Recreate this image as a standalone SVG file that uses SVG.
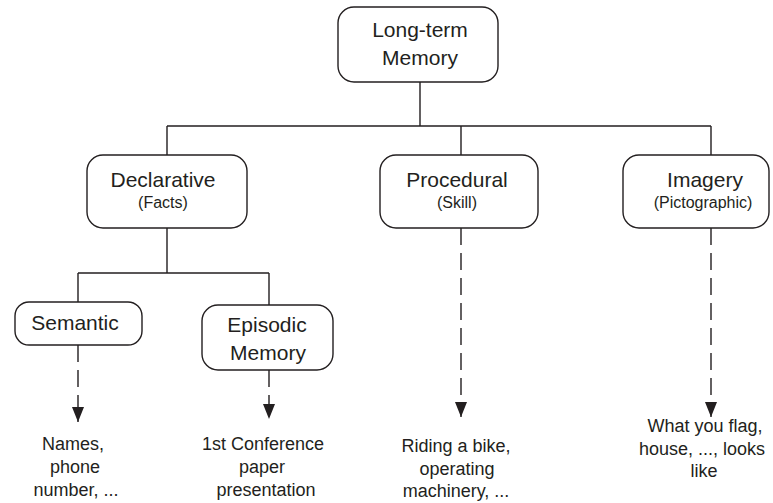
<svg xmlns="http://www.w3.org/2000/svg" width="773" height="503" viewBox="0 0 773 503">
<defs>
<marker id="arr" markerUnits="userSpaceOnUse" markerWidth="15" markerHeight="12" refX="15" refY="6" orient="auto" viewBox="0 0 15 12">
<path d="M0,0 L15,6 L0,12 Z" fill="#231f20"/>
</marker>
</defs>
<style>
.box{fill:#fff;stroke:#231f20;stroke-width:1.4}
.ln{fill:none;stroke:#231f20;stroke-width:1.4}
.dash{fill:none;stroke:#231f20;stroke-width:1.4;stroke-dasharray:17 8}
text{font-family:"Liberation Sans",Arial,sans-serif;fill:#231f20;text-anchor:middle}
.m{font-size:21px}
.s{font-size:16px}
.l{font-size:18px}
</style>
<rect width="773" height="503" fill="#fff"/>
<g id="connectors">
<path class="ln" d="M420,82 V126 M167,126 H711 M167,126 V155 M461,126 V155 M711,126 V155"/>
<path class="ln" d="M167,228 V273 M78,273 H269 M78,273 V302 M269,273 V305"/>
<line class="dash" x1="78" y1="345" x2="78" y2="422" marker-end="url(#arr)"/>
<line class="dash" x1="269" y1="370" x2="269" y2="419" marker-end="url(#arr)"/>
<line class="dash" x1="461" y1="228" x2="461" y2="417" marker-end="url(#arr)"/>
<line class="dash" x1="711" y1="228" x2="711" y2="417" marker-end="url(#arr)"/>
</g>
<g id="ltm">
<rect class="box" x="338" y="7" width="160" height="75" rx="16"/>
<text class="m" x="420" y="37">Long-term</text>
<text class="m" x="420" y="65">Memory</text>
</g>
<g id="declarative">
<rect class="box" x="87" y="155" width="160" height="73" rx="16"/>
<text class="m" x="163" y="187">Declarative</text>
<text class="s" x="163" y="208">(Facts)</text>
</g>
<g id="procedural">
<rect class="box" x="380" y="155" width="158" height="73" rx="16"/>
<text class="m" x="457" y="187">Procedural</text>
<text class="s" x="457" y="208">(Skill)</text>
</g>
<g id="imagery">
<rect class="box" x="623" y="155" width="146" height="73" rx="16"/>
<text class="m" x="705" y="187">Imagery</text>
<text class="s" x="703" y="208">(Pictographic)</text>
</g>
<g id="semantic">
<rect class="box" x="15" y="302" width="127" height="43" rx="14"/>
<text class="m" x="75" y="330">Semantic</text>
</g>
<g id="episodic">
<rect class="box" x="202" y="305" width="131" height="65" rx="16"/>
<text class="m" x="267" y="332">Episodic</text>
<text class="m" x="268" y="360">Memory</text>
</g>
<g id="leaf-semantic">
<text class="l" x="73" y="450">Names,</text>
<text class="l" x="75" y="473">phone</text>
<text class="l" x="76" y="496">number, ...</text>
</g>
<g id="leaf-episodic">
<text class="l" x="263" y="450">1st Conference</text>
<text class="l" x="262" y="473">paper</text>
<text class="l" x="266" y="496">presentation</text>
</g>
<g id="leaf-procedural">
<text class="l" x="456" y="452">Riding a bike,</text>
<text class="l" x="457" y="475">operating</text>
<text class="l" x="456" y="497">machinery, ...</text>
</g>
<g id="leaf-imagery">
<text class="l" x="705" y="432">What you flag,</text>
<text class="l" x="702" y="455">house, ..., looks</text>
<text class="l" x="704" y="477">like</text>
</g>
</svg>
